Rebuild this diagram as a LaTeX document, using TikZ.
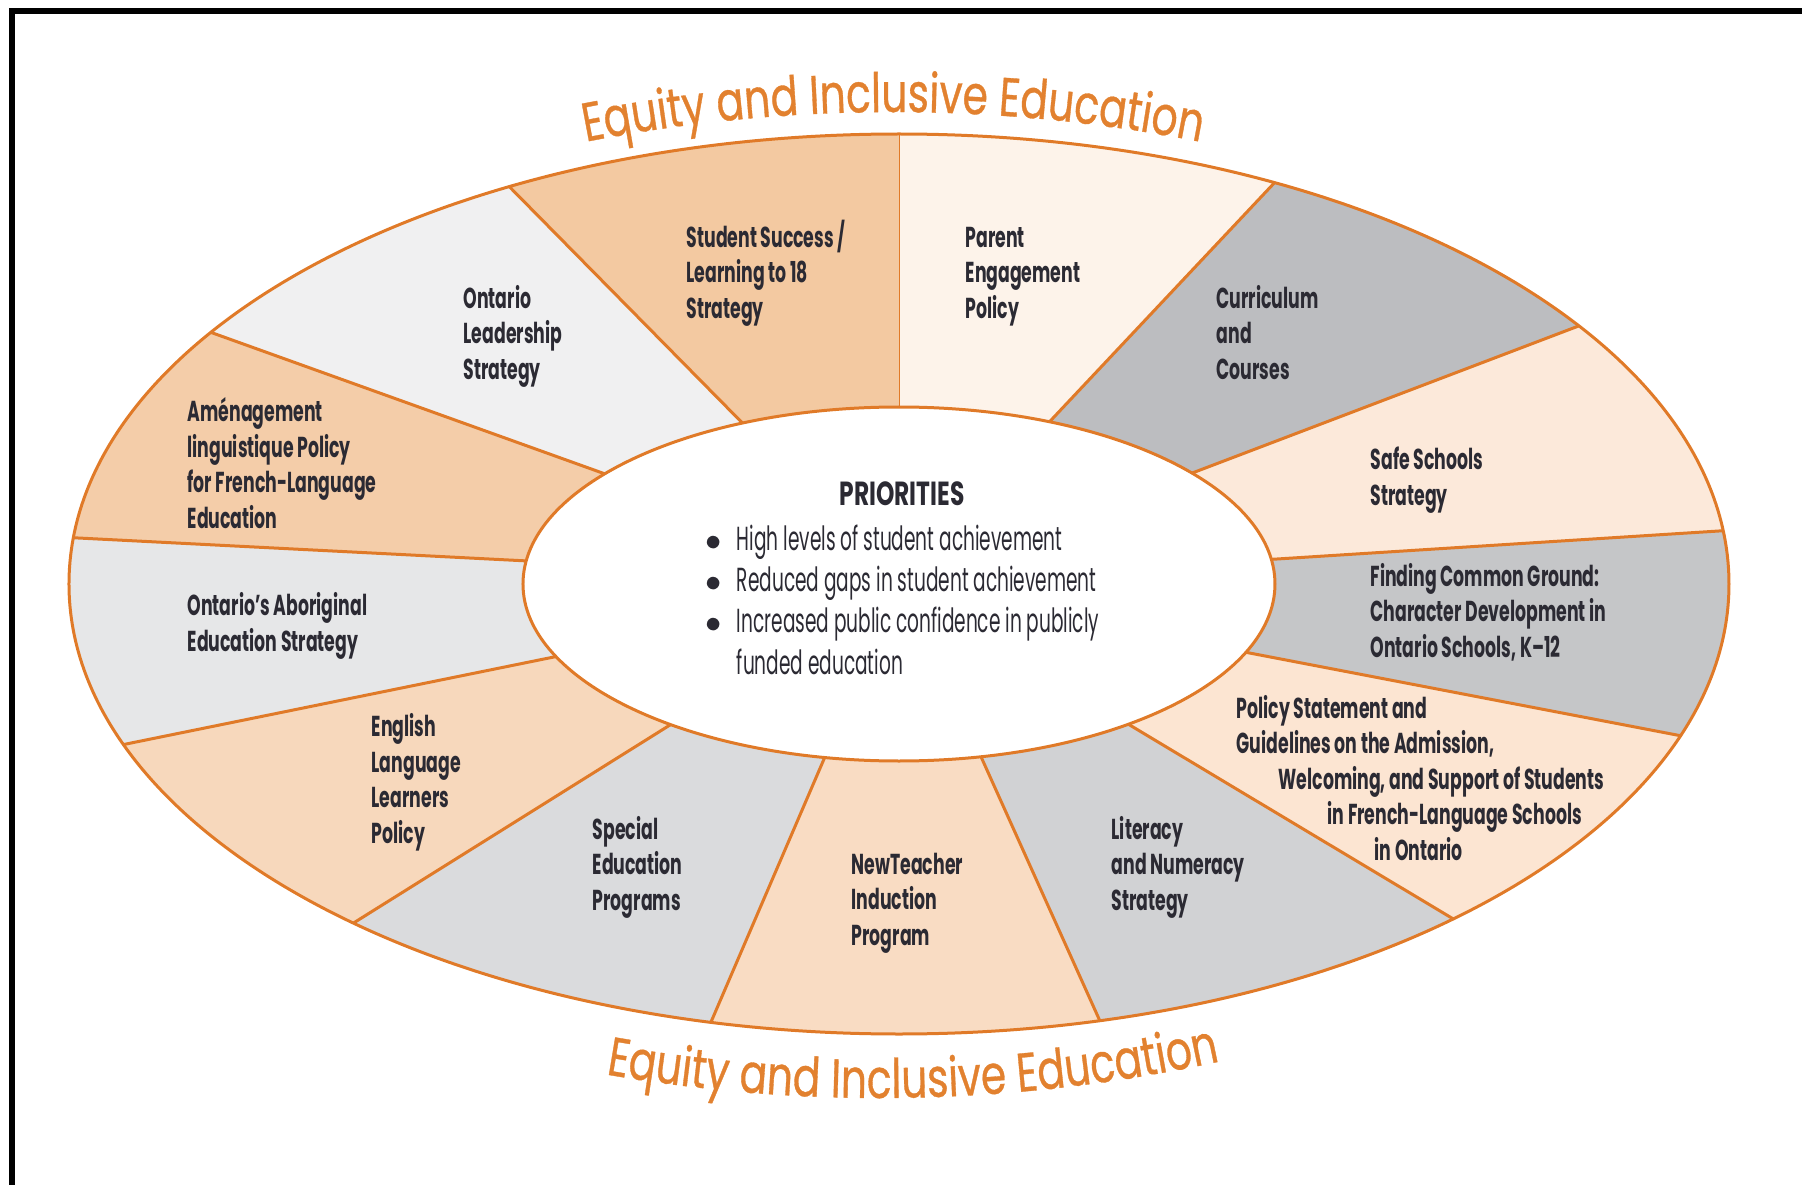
\documentclass[tikz,border=0pt]{standalone}
\usepackage{fontspec}
\usepackage{xcolor}
\usetikzlibrary{decorations.text,positioning}
\newfontfamily\labelfont[FakeStretch=0.6]{Poppins}
\newfontfamily\priofont[FakeStretch=0.555]{Poppins}
\newfontfamily\headfont[FakeStretch=0.7]{Poppins}
\newfontfamily\eqfont[FakeStretch=0.75, FakeBold=0.6]{Poppins}
\definecolor{edgeorange}{HTML}{E07A28}
\definecolor{eqorange}{HTML}{E2812F}
\definecolor{labeltext}{HTML}{2B2A33}
\definecolor{segParent}{HTML}{FDF3EA}
\definecolor{segCurric}{HTML}{BCBDC0}
\definecolor{segSafe}{HTML}{FCE9DA}
\definecolor{segFinding}{HTML}{C5C6C8}
\definecolor{segPolicy}{HTML}{FCE5D2}
\definecolor{segLiteracy}{HTML}{D1D2D4}
\definecolor{segTeacher}{HTML}{F9DCC3}
\definecolor{segSpecial}{HTML}{DADBDD}
\definecolor{segEnglish}{HTML}{F7D8BC}
\definecolor{segAborig}{HTML}{E6E7E8}
\definecolor{segAmenag}{HTML}{F4CDA9}
\definecolor{segLeader}{HTML}{F0F0F1}
\definecolor{segStudent}{HTML}{F3C9A1}
\newcommand\eqstyle{\eqfont\fontsize{15.5}{18}\selectfont\color{eqorange}}
\tikzset{
	divider/.style={draw=edgeorange, line width=0.3mm},
	seglabel/.style={anchor=base west, align=left, inner sep=0pt, text=labeltext,
		font=\labelfont\bfseries\fontsize{8.2}{10.1}\selectfont},
	priohead/.style={anchor=base, inner sep=0pt, text=labeltext,
		font=\headfont\bfseries\fontsize{9.5}{11.8}\selectfont},
	priolist/.style={anchor=base west, inner sep=0pt, text=labeltext,
		font=\priofont\fontsize{9.5}{11.8}\selectfont},
}

\begin{document}
\begin{tikzpicture}[x=0.1mm, y=0.1mm]
	\useasboundingbox (-899,-601) rectangle (903,584);
	\draw[line width=0.6mm] (903,573) -- (-887,573) -- (-887,-605);
	\foreach \oa/\ia/\ob/\ib/\col in {
		90/90/63.1/66.4/segParent, 63.1/66.4/35/38.8/segCurric,
		35/38.8/6.8/8/segSafe, 6.8/8/-19.7/-22.7/segFinding,
		-19.7/-22.7/-48.1/-52.4/segPolicy, -48.1/-52.4/-76/-77.4/segLiteracy,
		-76/-77.4/-103.1/-101.4/segTeacher, -103.1/-101.4/-131.1/-127.4/segSpecial,
		-131.1/-127.4/-159.1/-155.8/segEnglish, -159.1/-155.8/-185.9/-187.5/segAborig,
		-185.9/-187.5/-214/-218.5/segAmenag, -214/-218.5/-242/-245.4/segLeader,
		-242/-245.4/-270/-270/segStudent} {
		\fill[\col] (\oa:830 and 450) arc[start angle=\oa, end angle=\ob, x radius=830, y radius=450]
			-- (\ib:376 and 177) arc[start angle=\ib, end angle=\ia, x radius=376, y radius=177] -- cycle;
		\draw[divider] (\oa:830 and 450) -- (\ia:376 and 177);
	}
	\draw[divider] (0,0) ellipse[x radius=830, y radius=450];
	\filldraw[divider, fill=white] (0,0) ellipse[x radius=376, y radius=177];

	\path[decorate, decoration={text along path, text align=center,
		text={|\eqstyle|Equity and Inclusive Education}}]
		(-6,-1128) ++(114:1600) arc[start angle=114, end angle=66, radius=1600];
	\path[decorate, decoration={text along path, text align=center,
		text={|\eqstyle|Equity and Inclusive Education}}]
		(-19,1088) ++(257:1602) arc[start angle=257, end angle=285.4, radius=1602];

	\node[seglabel] (studsucc) at (-213,266) {Student Success /\\Learning to 18\\Strategy};
	\node[seglabel] (parent) at (66,266) {Parent\\Engagement\\Policy};
	\node[seglabel] (curric) at (317,205) {Curriculum\\and\\Courses};
	\node[seglabel] (safe) at (471,79) {Safe Schools\\Strategy};
	\node[seglabel] (finding) at (471,-73) {Finding Common Ground:\\Character Development in\\Ontario Schools, K–12};
	\node[seglabel] (policy) at (337,-276) {Policy Statement and\\Guidelines on the Admission,\\
		\hspace*{4.2mm}Welcoming, and Support of Students\\\hspace*{9.1mm}in French-Language Schools\\
		\hspace*{13.8mm}in Ontario};
	\node[seglabel] (literacy) at (212,-326) {Literacy\\and Numeracy\\Strategy};
	\node[seglabel] (newteach) at (-48,-361) {NewTeacher\\Induction\\Program};
	\node[seglabel] (special) at (-307,-326) {Special\\Education\\Programs};
	\node[seglabel] (english) at (-528,-259) {English\\Language\\Learners\\Policy};
	\node[seglabel] (aborig) at (-712,-67) {Ontario’s Aboriginal\\Education Strategy};
	\node[seglabel] (amenag) at (-712,56) {Aménagement\\linguistique Policy\\for French-Language\\Education};
	\node[seglabel] (leader) at (-436,205) {Ontario\\Leadership\\Strategy};

	\node[priohead] (prio) at (3,79) {PRIORITIES};
	\node[priolist] (goals) at (-194.5,34) {\begin{tabular}[t]{@{}c@{\hspace{1.55mm}}l@{}}
		$\bullet$ & High levels of student achievement\\
		$\bullet$ & Reduced gaps in student achievement\\
		$\bullet$ & Increased public confidence in publicly\\
		& funded education
	\end{tabular}};
\end{tikzpicture}
\end{document}
